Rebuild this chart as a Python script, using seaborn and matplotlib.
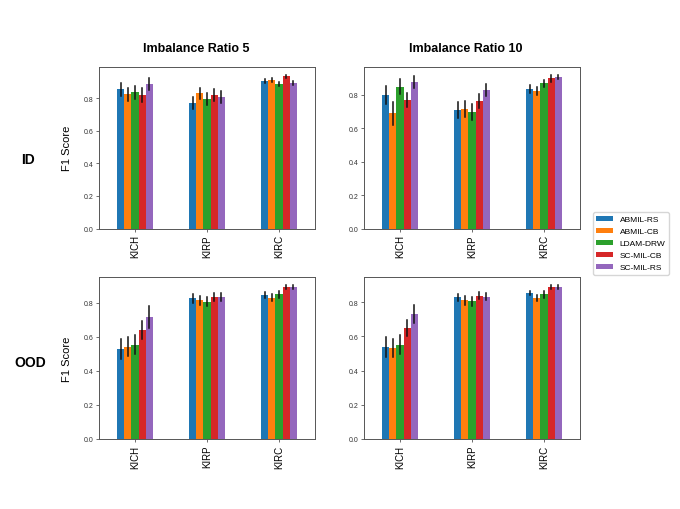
#!/usr/bin/env python3
import matplotlib
matplotlib.use("Agg")
import matplotlib.pyplot as plt
import numpy as np
import pandas as pd
import seaborn as sns

plt.rcParams["font.family"] = ["Liberation Sans", "DejaVu Sans"]

cancers = ["KICH", "KIRP", "KIRC"]
methods = ["ABMIL-RS", "ABMIL-CB", "LDAM-DRW", "SC-MIL-CB", "SC-MIL-RS"]
palette = ["#1f77b4", "#ff7f0e", "#2ca02c", "#d62728", "#9467bd"]

# mean F1 per method (rows) and cancer (columns), plus error half-widths
id_ir5_mean = [[0.853, 0.769, 0.904],
               [0.824, 0.830, 0.911],
               [0.836, 0.793, 0.886],
               [0.820, 0.820, 0.933],
               [0.888, 0.804, 0.892]]
id_ir5_err = [[0.040, 0.036, 0.012],
              [0.040, 0.033, 0.012],
              [0.040, 0.037, 0.015],
              [0.043, 0.036, 0.010],
              [0.036, 0.036, 0.012]]

id_ir10_mean = [[0.796, 0.708, 0.832],
                [0.688, 0.712, 0.822],
                [0.848, 0.698, 0.868],
                [0.770, 0.762, 0.898],
                [0.878, 0.828, 0.908]]
id_ir10_err = [[0.054, 0.050, 0.024],
               [0.070, 0.048, 0.025],
               [0.045, 0.047, 0.020],
               [0.042, 0.042, 0.020],
               [0.036, 0.035, 0.012]]

ood_ir5_mean = [[0.530, 0.828, 0.847],
                [0.542, 0.816, 0.830],
                [0.554, 0.806, 0.851],
                [0.642, 0.834, 0.895],
                [0.717, 0.837, 0.895]]
ood_ir5_err = [[0.058, 0.027, 0.020],
               [0.057, 0.027, 0.020],
               [0.056, 0.026, 0.020],
               [0.054, 0.025, 0.012],
               [0.065, 0.024, 0.012]]

ood_ir10_mean = [[0.539, 0.828, 0.851],
                 [0.533, 0.810, 0.824],
                 [0.552, 0.804, 0.845],
                 [0.649, 0.837, 0.890],
                 [0.731, 0.831, 0.890]]
ood_ir10_err = [[0.060, 0.022, 0.012],
                [0.052, 0.024, 0.020],
                [0.054, 0.025, 0.020],
                [0.048, 0.020, 0.012],
                [0.052, 0.020, 0.012]]

panels = [
    ("ID", "IR5", id_ir5_mean, id_ir5_err),
    ("ID", "IR10", id_ir10_mean, id_ir10_err),
    ("OOD", "IR5", ood_ir5_mean, ood_ir5_err),
    ("OOD", "IR10", ood_ir10_mean, ood_ir10_err),
]

# Two rows per bar (mean - err, mean + err): the mean gives the bar,
# min/max give the error bar.
rows = []
for split, ratio, mean, err in panels:
    for i, m in enumerate(methods):
        for j, c in enumerate(cancers):
            for sign in (-1, 1):
                rows.append((split, ratio, m, c, mean[i][j] + sign * err[i][j]))
data = pd.DataFrame(rows, columns=["Split", "Ratio", "Method", "Cancer", "F1"])

fig = plt.figure(figsize=(6.8, 5.1), dpi=100)
W, H = 680.0, 510.0
boxes = {
    ("ID", "IR5"): (99, 68, 315, 229.5),
    ("ID", "IR10"): (364, 68, 580, 229.5),
    ("OOD", "IR5"): (99, 278, 315, 440),
    ("OOD", "IR10"): (364, 278, 580, 440),
}

handles, labels = None, None
for (split, ratio), (x0, y0, x1, y1) in boxes.items():
    ax = fig.add_axes([x0 / W, 1 - y1 / H, (x1 - x0) / W, (y1 - y0) / H])
    sub = data[(data["Split"] == split) & (data["Ratio"] == ratio)]
    sns.barplot(
        data=sub, x="Cancer", y="F1", hue="Method",
        order=cancers, hue_order=methods, palette=palette,
        estimator="mean", errorbar=lambda v: (v.min(), v.max()),
        width=0.5, saturation=1, linewidth=0,
        err_kws={"color": "#111111", "linewidth": 1.1},
        ax=ax,
    )
    if handles is None:
        handles, labels = ax.get_legend_handles_labels()
    ax.get_legend().remove()
    ax.set_xlabel("")
    ax.tick_params(axis="y", labelsize=5, length=2.5, pad=1.5, width=0.6,
                   color="#555555", labelcolor="#333333")
    ax.tick_params(axis="x", labelsize=7, length=2.5, pad=1.5, width=0.6,
                   color="#555555")
    ax.set_xticks(range(len(cancers)))
    ax.set_xticklabels(cancers, rotation=90)
    for sp in ax.spines.values():
        sp.set_linewidth(0.7)
        sp.set_color("#555555")
    if ratio == "IR5":
        ax.set_ylabel("F1 Score", fontsize=8, labelpad=8)
    else:
        ax.set_ylabel("")

fig.text(196 / W, 1 - 49 / H, "Imbalance Ratio 5", ha="center", va="center",
         fontsize=9, fontweight="bold")
fig.text(466 / W, 1 - 49 / H, "Imbalance Ratio 10", ha="center", va="center",
         fontsize=9, fontweight="bold")
fig.text(28 / W, 1 - 160 / H, "ID", ha="center", va="center",
         fontsize=10, fontweight="bold")
fig.text(30 / W, 1 - 363 / H, "OOD", ha="center", va="center",
         fontsize=10, fontweight="bold")

fig.legend(handles, labels, loc="center", bbox_to_anchor=(631 / W, 1 - 244.5 / H),
           fontsize=6, frameon=True)

fig.savefig("out.png", dpi=100)
